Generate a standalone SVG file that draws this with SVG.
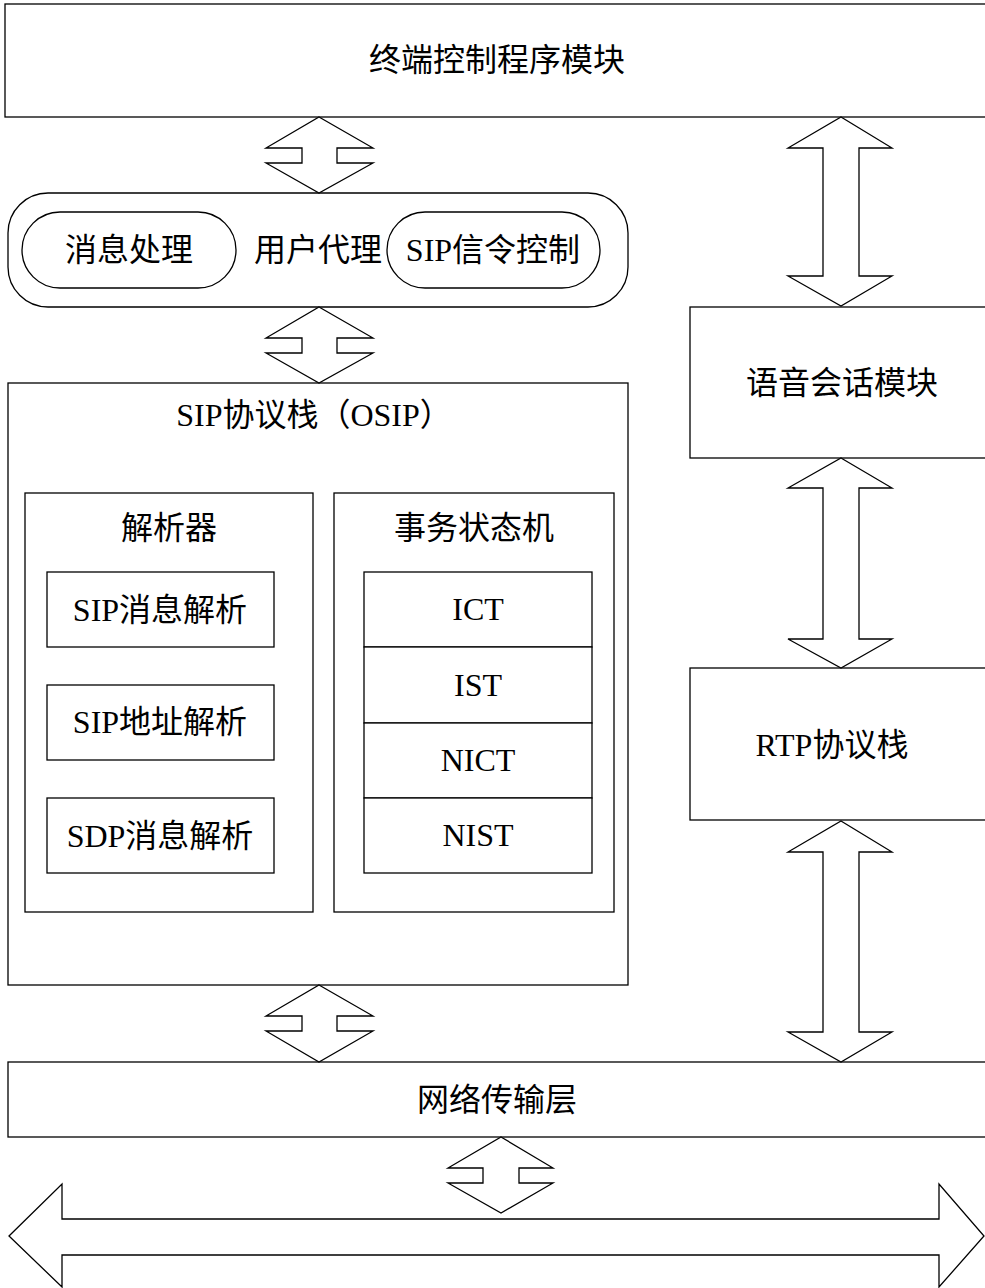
<svg xmlns="http://www.w3.org/2000/svg" width="985" height="1288" viewBox="0 0 985 1288">
<style>
.b{fill:#fff;stroke:#000;stroke-width:1.3}
.a{fill:#fff;stroke:#000;stroke-width:1.3;stroke-linejoin:miter}
text{font-family:"Liberation Serif","Noto Sans CJK SC",serif;font-size:32px;fill:#000;text-anchor:middle;dominant-baseline:central}
</style>
<rect width="985" height="1288" fill="#fff"/>
<g id="terminal-control">
<rect class="b" x="5" y="4" width="990" height="113"/>
<text x="497" y="60">终端控制程序模块</text>
</g>
<g id="user-agent">
<rect class="b" x="8" y="193" width="620" height="114" rx="40" ry="40"/>
<text x="318" y="250">用户代理</text>
</g>
<g id="msg-proc">
<rect class="b" x="22" y="212" width="214" height="76" rx="38" ry="38"/>
<text x="129" y="250">消息处理</text>
</g>
<g id="sip-signal">
<rect class="b" x="387" y="212" width="213" height="76" rx="38" ry="38"/>
<text x="493" y="250">SIP信令控制</text>
</g>
<g id="sip-stack">
<rect class="b" x="8" y="383" width="620" height="602"/>
<text x="314" y="415">SIP协议栈（OSIP）</text>
</g>
<g id="parser">
<rect class="b" x="25" y="493" width="288" height="419"/>
<text x="169" y="528">解析器</text>
</g>
<g id="sip-msg-parse">
<rect class="b" x="47" y="572" width="227" height="75"/>
<text x="160" y="610">SIP消息解析</text>
</g>
<g id="sip-addr-parse">
<rect class="b" x="47" y="685" width="227" height="75"/>
<text x="160" y="722">SIP地址解析</text>
</g>
<g id="sdp-msg-parse">
<rect class="b" x="47" y="798" width="227" height="75"/>
<text x="160" y="836">SDP消息解析</text>
</g>
<g id="fsm">
<rect class="b" x="334" y="493" width="280" height="419"/>
<text x="474" y="528">事务状态机</text>
</g>
<g id="ict">
<rect class="b" x="364" y="572" width="228" height="75"/>
<text x="478" y="609">ICT</text>
</g>
<g id="ist">
<rect class="b" x="364" y="647" width="228" height="76"/>
<text x="478" y="685">IST</text>
</g>
<g id="nict">
<rect class="b" x="364" y="723" width="228" height="75"/>
<text x="478" y="760">NICT</text>
</g>
<g id="nist">
<rect class="b" x="364" y="798" width="228" height="75"/>
<text x="478" y="835">NIST</text>
</g>
<g id="voice-session">
<rect class="b" x="690" y="307" width="310" height="151"/>
<text x="842" y="383">语音会话模块</text>
</g>
<g id="rtp-stack">
<rect class="b" x="690" y="668" width="310" height="152"/>
<text x="832" y="745">RTP协议栈</text>
</g>
<g id="network">
<rect class="b" x="8" y="1062" width="990" height="75"/>
<text x="497" y="1100">网络传输层</text>
</g>
<g id="connectors">
<polygon class="a" points="319,117 373,148 337,148 337,163 373,163 319,193 266,163 302,163 302,148 266,148"/>
<polygon class="a" points="319,307 373,338 337,338 337,353 373,353 319,383 266,353 302,353 302,338 266,338"/>
<polygon class="a" points="319,985 373,1016 337,1016 337,1031 373,1031 319,1062 266,1031 302,1031 302,1016 266,1016"/>
<polygon class="a" points="501,1137 553,1168 519,1168 519,1183 553,1183 501,1213 448,1183 483,1183 483,1168 448,1168"/>
<polygon class="a" points="841,117 892,148 859,148 859,276 892,276 841,306 788,276 823,276 823,148 788,148"/>
<polygon class="a" points="841,458 892,488 859,488 859,639 892,639 841,668 788,639 823,639 823,488 788,488"/>
<polygon class="a" points="841,821 892,852 859,852 859,1032 892,1032 841,1062 788,1032 823,1032 823,852 788,852"/>
<polygon class="a" points="9,1236 62,1184 62,1219 939,1219 939,1184 984,1236 939,1287 939,1255 62,1255 62,1287"/>
</g>
</svg>
